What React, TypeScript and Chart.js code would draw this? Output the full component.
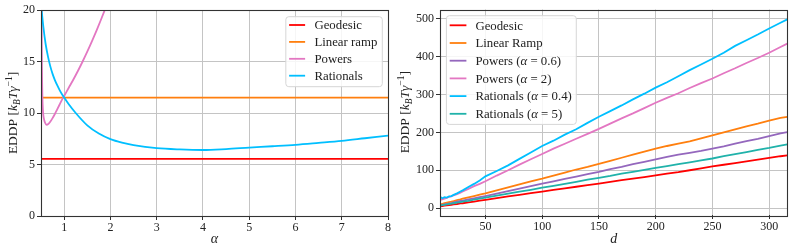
import React, { useEffect, useRef } from "react";
import { Chart, registerables } from "chart.js";
Chart.register(...registerables);

const FONT = "'Liberation Serif', 'DejaVu Serif', serif";
const TICK_SIZE = 12;
const LEGEND_SIZE = 12.8;
const TITLE_SIZE = 13.5;
const TEXT_COLOR = "#222";
const GRID_COLOR = "#c4c4c4";

// ---------- Left panel: EDDP vs alpha ----------
const ALPHA_TICKS = [1, 2, 3, 4, 5, 6, 7, 8];
const LEFT_Y_TICKS = [0, 5, 10, 15, 20];
const ALPHA_RANGE = [0.5, 8];
const GEODESIC_LEVEL = 5.55;
const LINEAR_RAMP_LEVEL = 11.5;
const POWERS_ALPHA = [0.5, 0.505, 0.51, 0.515, 0.52, 0.53, 0.54, 0.55, 0.57, 0.59, 0.625, 0.65, 0.7, 0.75, 0.8, 0.85, 0.9, 0.95, 1.0, 1.1, 1.2, 1.3, 1.4, 1.5, 1.6, 1.7, 1.8, 1.9, 2.0];
const POWERS_EDDP = [40, 30, 23, 18, 14.5, 11.6, 10.4, 9.8, 9.3, 9.05, 8.85, 8.9, 9.15, 9.5, 9.9, 10.35, 10.8, 11.25, 11.65, 12.45, 13.25, 14.1, 15.0, 15.95, 16.95, 18.0, 19.1, 20.25, 21.4];
const RATIONALS_ALPHA = [0.5, 0.55, 0.6, 0.65, 0.7, 0.75, 0.8, 0.85, 0.9, 0.95, 1.0, 1.1, 1.25, 1.5, 1.75, 2, 2.25, 2.5, 3, 3.5, 4, 4.5, 5, 5.5, 6, 6.5, 7, 7.5, 8];
const RATIONALS_EDDP = [20.6, 18.4, 16.7, 15.5, 14.55, 13.8, 13.2, 12.7, 12.25, 11.85, 11.5, 10.85, 10.0, 8.8, 8.0, 7.46, 7.12, 6.88, 6.58, 6.46, 6.41, 6.5, 6.64, 6.77, 6.91, 7.1, 7.3, 7.55, 7.8];

// ---------- Right panel: EDDP vs d ----------
const D_TICKS = [50, 100, 150, 200, 250, 300];
const RIGHT_Y_TICKS = [0, 100, 200, 300, 400, 500];
const D_RANGE = [10, 316];
const RIGHT_Y_RANGE = [-18, 524];
const D_VALUES = [10, 12, 14, 16, 18, 20, 22, 25, 28, 30, 35, 40, 45, 50, 60, 70, 80, 90, 100, 110, 120, 130, 140, 150, 160, 170, 180, 190, 200, 210, 220, 230, 240, 250, 260, 270, 280, 290, 300, 310, 316];
const GEODESIC_D = [5, 5.5, 6.5, 7.5, 8, 9, 10, 11, 12.5, 13, 15.5, 17.5, 20, 22, 26.5, 31, 35, 39.5, 43.5, 48, 52, 56.5, 61, 65, 69.5, 74, 78, 82, 86.5, 91, 95, 100, 105, 110, 114.5, 119, 123.5, 128, 132.5, 137, 139];
const LINEAR_RAMP_D = [10, 11.5, 13, 14.5, 16, 17, 18.5, 21, 23, 25, 28.5, 32, 35.5, 39, 47, 55, 63, 71, 78, 86, 94, 102, 109, 117, 125, 133, 141, 149, 157, 164, 170, 176, 184, 192, 200, 208, 216, 223, 231, 238, 241];
const POWERS_06_D = [8, 9, 10, 11, 12.5, 13.5, 15, 17, 19, 20, 23, 26, 29, 32, 38.5, 45, 51.5, 58, 64.5, 71, 77, 83.5, 90, 96, 103, 109, 116, 122, 128.5, 135, 141, 146, 151, 157, 163, 170, 177, 183, 190, 197, 200.5];
const POWERS_2_D = [22, 23, 25, 27, 30, 31, 34, 37, 41, 44, 51, 58, 64, 71, 86, 100, 115, 129, 143, 157, 170, 183, 196, 209, 223, 237, 250, 264, 278, 291, 303, 317, 330, 342, 356, 369, 383, 396, 410, 425, 434];
const RATIONALS_04_D = [30, 26, 29, 28, 31, 32, 35, 39, 44, 47, 56, 64, 73, 84, 98, 113, 130, 147, 164, 178, 194, 208, 225, 241, 256, 271, 287, 302, 318, 332, 348, 364, 379, 394, 410, 428, 443, 458, 474, 489, 498];
const RATIONALS_5_D = [7, 8, 9, 10, 11, 12, 13, 14.5, 16, 17, 19.5, 22.5, 25, 28, 33, 38.5, 43.5, 48.5, 54, 59, 64, 69.5, 75, 80, 85, 91, 96, 101, 106.5, 111, 116, 121, 126, 131, 137, 142.5, 148, 154, 159, 165, 168];

const COLORS = {
  red: "#ff0000",
  orange: "#ff7f0e",
  pink: "#e377c2",
  blue: "#00bfff",
  purple: "#9467bd",
  teal: "#20b2aa",
};

type Seg = { t: string; it?: boolean; sc?: number; dy?: number };

function segFont(s: Seg, size: number) {
  return `${s.it ? "italic " : ""}${size * (s.sc ?? 1)}px ${FONT}`;
}
function richWidth(ctx: CanvasRenderingContext2D, segs: Seg[], size: number) {
  let w = 0;
  for (const s of segs) {
    ctx.font = segFont(s, size);
    w += ctx.measureText(s.t).width;
  }
  return w;
}
function drawRich(ctx: CanvasRenderingContext2D, segs: Seg[], x: number, yMid: number, size: number) {
  let cx = x;
  ctx.textBaseline = "alphabetic";
  ctx.textAlign = "left";
  const base = yMid + size * 0.33;
  for (const s of segs) {
    ctx.font = segFont(s, size);
    ctx.fillText(s.t, cx, base + (s.dy ?? 0) * size);
    cx += ctx.measureText(s.t).width;
  }
}
function labelSegs(label: string): Seg[] {
  const parts = label.split("α");
  const segs: Seg[] = [];
  parts.forEach((p, i) => {
    if (i > 0) segs.push({ t: "α", it: true });
    if (p) segs.push({ t: p });
  });
  return segs;
}

const Y_TITLE: Seg[] = [
  { t: "EDDP [" },
  { t: "k", it: true },
  { t: "B", it: true, sc: 0.7, dy: 0.22 },
  { t: "T", it: true },
  { t: "γ", it: true },
  { t: "−1", sc: 0.7, dy: -0.38 },
  { t: "]" },
];

const framePlugin = {
  id: "mplFrame",
  afterDatasetsDraw(chart: any) {
    const { ctx, chartArea: a } = chart;
    ctx.save();
    ctx.strokeStyle = "#333";
    ctx.lineWidth = 1.1;
    ctx.strokeRect(Math.round(a.left) + 0.5, Math.round(a.top) + 0.5, Math.round(a.right - a.left), Math.round(a.bottom - a.top));
    ctx.restore();
  },
};

const titlesPlugin = {
  id: "mplTitles",
  afterDraw(chart: any, _args: any, opts: any) {
    const { ctx, chartArea: a } = chart;
    ctx.save();
    ctx.fillStyle = TEXT_COLOR;
    const w = richWidth(ctx, Y_TITLE, TITLE_SIZE);
    ctx.translate(opts.yTitleX, (a.top + a.bottom) / 2);
    ctx.rotate(-Math.PI / 2);
    drawRich(ctx, Y_TITLE, -w / 2, 0, TITLE_SIZE);
    ctx.restore();
    ctx.save();
    ctx.fillStyle = TEXT_COLOR;
    const xs: Seg[] = [{ t: opts.xTitle, it: true }];
    const xw = richWidth(ctx, xs, TITLE_SIZE + 0.5);
    drawRich(ctx, xs, (a.left + a.right) / 2 - xw / 2, opts.xTitleY, TITLE_SIZE + 0.5);
    ctx.restore();
  },
};

const legendPlugin = {
  id: "mplLegend",
  afterDraw(chart: any, _args: any, o: any) {
    const { ctx, chartArea: a } = chart;
    const ds = chart.data.datasets;
    ctx.save();
    let maxW = 0;
    const segsList = ds.map((d: any) => labelSegs(d.label));
    for (const s of segsList) maxW = Math.max(maxW, richWidth(ctx, s, LEGEND_SIZE));
    const boxW = o.textX + maxW + o.rightPad;
    const boxH = o.firstDy + (ds.length - 1) * o.rowH + o.bottomPad;
    const left = o.corner === "right" ? a.right - o.offX - boxW : a.left + o.offX;
    const top = a.top + o.offY;
    const r = 3;
    ctx.beginPath();
    ctx.moveTo(left + r, top);
    ctx.lineTo(left + boxW - r, top);
    ctx.arcTo(left + boxW, top, left + boxW, top + r, r);
    ctx.lineTo(left + boxW, top + boxH - r);
    ctx.arcTo(left + boxW, top + boxH, left + boxW - r, top + boxH, r);
    ctx.lineTo(left + r, top + boxH);
    ctx.arcTo(left, top + boxH, left, top + boxH - r, r);
    ctx.lineTo(left, top + r);
    ctx.arcTo(left, top, left + r, top, r);
    ctx.closePath();
    ctx.fillStyle = "rgba(255,255,255,0.85)";
    ctx.fill();
    ctx.strokeStyle = "#d6d6d6";
    ctx.lineWidth = 1;
    ctx.stroke();
    ds.forEach((d: any, i: number) => {
      const y = top + o.firstDy + i * o.rowH;
      ctx.strokeStyle = d.borderColor;
      ctx.lineWidth = 1.8;
      ctx.beginPath();
      ctx.moveTo(left + o.handleX, y);
      ctx.lineTo(left + o.handleX + o.handleLen, y);
      ctx.stroke();
      ctx.fillStyle = TEXT_COLOR;
      drawRich(ctx, segsList[i], left + o.textX, y, LEGEND_SIZE);
    });
    ctx.restore();
  },
};

function pairs(xs: number[], ys: number[]) {
  return xs.map((x, i) => ({ x, y: ys[i] }));
}

function lineDs(label: string, data: any[], color: string, idx: number, smooth = false) {
  return {
    label,
    data,
    borderColor: color,
    backgroundColor: color,
    borderWidth: 1.8,
    pointRadius: 0,
    fill: false,
    order: -idx,
    cubicInterpolationMode: smooth ? "monotone" : "default",
    tension: 0,
  };
}

function axis(min: number, max: number, ticks: number[], isX: boolean, size: number, pad: number) {
  return {
    type: "linear",
    min,
    max,
    position: isX ? "bottom" : "left",
    afterBuildTicks: (s: any) => {
      s.ticks = ticks.map((v) => ({ value: v }));
    },
    afterFit: (s: any) => {
      if (isX) s.height = size;
      else s.width = size;
    },
    border: { display: false },
    grid: {
      color: GRID_COLOR,
      lineWidth: 1,
      drawTicks: true,
      tickLength: 4,
      tickColor: "#333",
      tickWidth: 1,
    },
    ticks: {
      color: TEXT_COLOR,
      font: { family: FONT, size: TICK_SIZE },
      padding: pad,
      maxRotation: 0,
      autoSkip: false,
      callback: (v: any) => String(v),
    },
  };
}

function useChart(ref: React.RefObject<HTMLCanvasElement>, build: () => any) {
  useEffect(() => {
    if (!ref.current) return;
    const chart = new Chart(ref.current, build());
    return () => chart.destroy();
  }, []);
}

function LeftChart() {
  const ref = useRef<HTMLCanvasElement>(null);
  useChart(ref, () => ({
    type: "line",
    data: {
      datasets: [
        lineDs("Geodesic", pairs(ALPHA_RANGE, [GEODESIC_LEVEL, GEODESIC_LEVEL]), COLORS.red, 0),
        lineDs("Linear ramp", pairs(ALPHA_RANGE, [LINEAR_RAMP_LEVEL, LINEAR_RAMP_LEVEL]), COLORS.orange, 1),
        lineDs("Powers", pairs(POWERS_ALPHA, POWERS_EDDP), COLORS.pink, 2, true),
        lineDs("Rationals", pairs(RATIONALS_ALPHA, RATIONALS_EDDP), COLORS.blue, 3, true),
      ],
    },
    options: {
      responsive: false,
      animation: false,
      devicePixelRatio: 1,
      layout: { padding: { left: 0, right: 8, top: 10, bottom: 0 } },
      scales: {
        x: axis(ALPHA_RANGE[0], ALPHA_RANGE[1], ALPHA_TICKS, true, 36, 1),
        y: axis(0, 20, LEFT_Y_TICKS, false, 41, 2),
      },
      plugins: {
        legend: { display: false },
        tooltip: { enabled: false },
        mplTitles: { yTitleX: 13, xTitle: "α", xTitleY: 238 },
        mplLegend: { corner: "right", offX: 5.7, offY: 6.7, rowH: 16.9, firstDy: 8.3, bottomPad: 11, handleX: 3.3, handleLen: 16, textX: 28.6, rightPad: 5 },
      },
    },
    plugins: [framePlugin, titlesPlugin, legendPlugin],
  }));
  return <canvas ref={ref} width={396} height={252} style={{ position: "absolute", left: 0, top: 0, width: 396, height: 252 }} />;
}

function RightChart() {
  const ref = useRef<HTMLCanvasElement>(null);
  useChart(ref, () => ({
    type: "line",
    data: {
      datasets: [
        lineDs("Geodesic", pairs(D_VALUES, GEODESIC_D), COLORS.red, 0),
        lineDs("Linear Ramp", pairs(D_VALUES, LINEAR_RAMP_D), COLORS.orange, 1),
        lineDs("Powers (α = 0.6)", pairs(D_VALUES, POWERS_06_D), COLORS.purple, 2),
        lineDs("Powers (α = 2)", pairs(D_VALUES, POWERS_2_D), COLORS.pink, 3),
        lineDs("Rationals (α = 0.4)", pairs(D_VALUES, RATIONALS_04_D), COLORS.blue, 4),
        lineDs("Rationals (α = 5)", pairs(D_VALUES, RATIONALS_5_D), COLORS.teal, 5),
      ],
    },
    options: {
      responsive: false,
      animation: false,
      devicePixelRatio: 1,
      layout: { padding: { left: 0, right: 5.7, top: 9.5, bottom: 0 } },
      scales: {
        x: axis(D_RANGE[0], D_RANGE[1], D_TICKS, true, 37, 1),
        y: axis(RIGHT_Y_RANGE[0], RIGHT_Y_RANGE[1], RIGHT_Y_TICKS, false, 44, 2),
      },
      plugins: {
        legend: { display: false },
        tooltip: { enabled: false },
        mplTitles: { yTitleX: 9, xTitle: "d", xTitleY: 238 },
        mplLegend: { corner: "left", offX: 6.4, offY: 6.2, rowH: 17.7, firstDy: 9.6, bottomPad: 10.6, handleX: 3.3, handleLen: 16.7, textX: 29, rightPad: 4.5 },
      },
    },
    plugins: [framePlugin, titlesPlugin, legendPlugin],
  }));
  return <canvas ref={ref} width={397} height={252} style={{ position: "absolute", left: 396, top: 0, width: 397, height: 252 }} />;
}

export default function App() {
  return (
    <div style={{ position: "fixed", left: 0, top: 0, width: 793, height: 252, background: "#fff", overflow: "hidden" }}>
      <LeftChart />
      <RightChart />
    </div>
  );
}
